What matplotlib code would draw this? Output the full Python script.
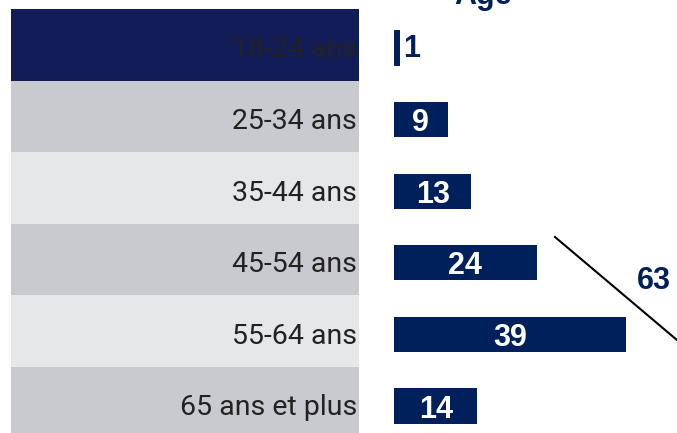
import matplotlib
matplotlib.use("Agg")
import matplotlib.pyplot as plt
from matplotlib.lines import Line2D

categories = ["18-24 ans", "25-34 ans", "35-44 ans", "45-54 ans", "55-64 ans", "65 ans et plus"]
values = [1, 9, 13, 24, 39, 14]
title = "Age"
annot_value = "63"

W, H = 677, 433
NAVY_BAR = "#00205b"
NAVY_BAND = "#121c57"
GREY1 = "#c9cacf"
GREY2 = "#e6e7e9"
band_colors = [NAVY_BAND, GREY1, GREY2, GREY1, GREY2, GREY1]

fig = plt.figure(figsize=(W / 100, H / 100), dpi=100)
fig.patch.set_facecolor("white")

def fax(left, top, right, bottom):
    return [left / W, 1 - bottom / H, (right - left) / W, (bottom - top) / H]

row_h = 71.6
n = len(categories)

# left label panel
axl = fig.add_axes(fax(11, 9, 359, 9 + n * row_h))
axl.set_xlim(0, 1)
axl.set_ylim(n - 0.5, -0.5)
for i, (c, col) in enumerate(zip(categories, band_colors)):
    axl.axhspan(i - 0.5, i + 0.5, color=col, lw=0)
    axl.text(0.994, i + 0.07, c, ha="right", va="center", fontsize=20.5,
             family="Roboto", fontweight="normal", color="#222222")
axl.axis("off")

# bars panel
px_per_unit = 5.95
top_b = 48 - row_h / 2
axb = fig.add_axes(fax(394, top_b, W, top_b + n * row_h))
axb.set_xlim(0, (W - 394) / px_per_unit)
axb.set_ylim(n - 0.5, -0.5)
ys = list(range(n))
axb.barh(ys, values, height=0.49, color=NAVY_BAR, lw=0)
for y, v in zip(ys, values):
    if v < 4:
        axb.text(v + 0.6, y + 0.02, str(v), ha="left", va="center", fontsize=22,
                 family="Liberation Sans", fontweight="bold", color=NAVY_BAR)
    else:
        axb.text(v / 2, y + 0.05, str(v), ha="center", va="center", fontsize=22,
                 family="Liberation Sans", fontweight="bold", color="white")
axb.axis("off")

# title partially cut off at top
fig.text(483 / W, 1 - 4 / H, title, ha="center", va="baseline", fontsize=22,
         family="Liberation Sans", fontweight="bold", color=NAVY_BAR)

# diagonal annotation line and value
fig.add_artist(Line2D([555 / W, 690 / W], [1 - 237 / H, 1 - 351 / H],
                      transform=fig.transFigure, color="black", lw=1.5))
fig.text(654 / W, 1 - 281 / H, annot_value, ha="center", va="center", fontsize=22,
         family="Liberation Sans", fontweight="bold", color=NAVY_BAR)

fig.savefig("out.png", dpi=100, facecolor="white")
